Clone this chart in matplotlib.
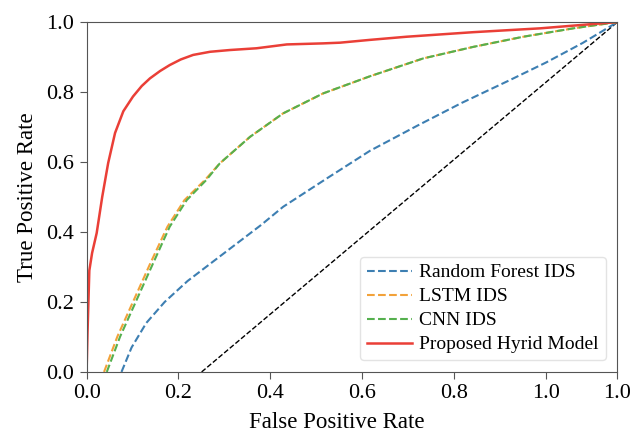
import numpy as np
import matplotlib
matplotlib.use("Agg")
import matplotlib.pyplot as plt

plt.rcParams["font.family"] = ["Liberation Serif", "DejaVu Serif"]

# Curves (x in the axis's own tick scale, axis runs to ~1.156)
rf_fpr = [0.076, 0.098, 0.13, 0.17, 0.22, 0.27, 0.33, 0.38, 0.428, 0.523, 0.617, 0.719, 0.817, 0.92, 1.0, 1.08, 1.156]
rf_tpr = [0.0, 0.07, 0.14, 0.20, 0.26, 0.31, 0.37, 0.42, 0.472, 0.553, 0.632, 0.703, 0.769, 0.833, 0.884, 0.94, 1.0]

lstm_fpr = [0.038, 0.067, 0.103, 0.139, 0.176, 0.213, 0.258, 0.29, 0.356, 0.428, 0.515, 0.617, 0.733, 0.842, 0.951, 1.06, 1.156]
lstm_tpr = [0.0, 0.101, 0.206, 0.311, 0.415, 0.491, 0.549, 0.596, 0.672, 0.739, 0.796, 0.845, 0.896, 0.929, 0.958, 0.982, 1.0]

cnn_fpr = [0.044, 0.073, 0.109, 0.145, 0.181, 0.218, 0.261, 0.29, 0.356, 0.428, 0.515, 0.617, 0.733, 0.842, 0.951, 1.06, 1.156]
cnn_tpr = [0.0, 0.101, 0.206, 0.311, 0.415, 0.491, 0.549, 0.596, 0.672, 0.739, 0.796, 0.845, 0.896, 0.929, 0.958, 0.982, 1.0]

hybrid_fpr = [0.0, 0.002, 0.006, 0.012, 0.022, 0.034, 0.047, 0.062, 0.08, 0.101, 0.12, 0.138, 0.16, 0.181, 0.205,
              0.232, 0.269, 0.312, 0.37, 0.436, 0.515, 0.552, 0.617, 0.697, 0.842, 0.988, 1.156]
hybrid_tpr = [0.0, 0.111, 0.29, 0.34, 0.397, 0.50, 0.597, 0.683, 0.745, 0.787, 0.817, 0.839, 0.86, 0.877, 0.893,
              0.906, 0.915, 0.92, 0.925, 0.936, 0.939, 0.941, 0.949, 0.958, 0.971, 0.982, 1.0]

chance_fpr = [0.2505, 1.156]
chance_tpr = [0.0, 1.0]

tick_pos = [0.0, 0.2, 0.4, 0.6, 0.8, 1.0, 1.156]
tick_labels = ["0.0", "0.2", "0.4", "0.6", "0.8", "1.0", "1.0"]

fig = plt.figure(figsize=(6.32, 4.32), dpi=100)
ax = fig.add_axes([0.137, 0.139, 0.840, 0.810])

ax.plot(chance_fpr, chance_tpr, color="black", linestyle="--", linewidth=1.0)
ax.plot(rf_fpr, rf_tpr, color="#3d7fb2", linestyle="--", linewidth=1.5, label="Random Forest IDS")
ax.plot(lstm_fpr, lstm_tpr, color="#f2a23a", linestyle="--", linewidth=1.5, label="LSTM IDS")
ax.plot(cnn_fpr, cnn_tpr, color="#55b04e", linestyle="--", linewidth=1.5, label="CNN IDS")
ax.plot(hybrid_fpr, hybrid_tpr, color="#ea3f37", linestyle="-", linewidth=1.8, label="Proposed Hyrid Model")

ax.set_xlim(0, 1.156)
ax.set_ylim(0, 1.0)
ax.set_xticks(tick_pos)
ax.set_xticklabels(tick_labels)
ax.set_yticks([0.0, 0.2, 0.4, 0.6, 0.8, 1.0])
ax.tick_params(labelsize=16, length=5, pad=4, color="#555555")
for sp in ax.spines.values():
    sp.set_color("#555555")

ax.set_xlabel("False Positive Rate", fontsize=16.5)
ax.xaxis.set_label_coords(0.472, -0.115)
ax.set_ylabel("True Positive Rate", fontsize=16.5, labelpad=6)

ax.legend(loc="lower right", fontsize=14, frameon=True, edgecolor="#dddddd",
          handlelength=2.3, handletextpad=0.4, borderpad=0.35, labelspacing=0.33,
          borderaxespad=0.6)

fig.savefig("out.png", dpi=100)
